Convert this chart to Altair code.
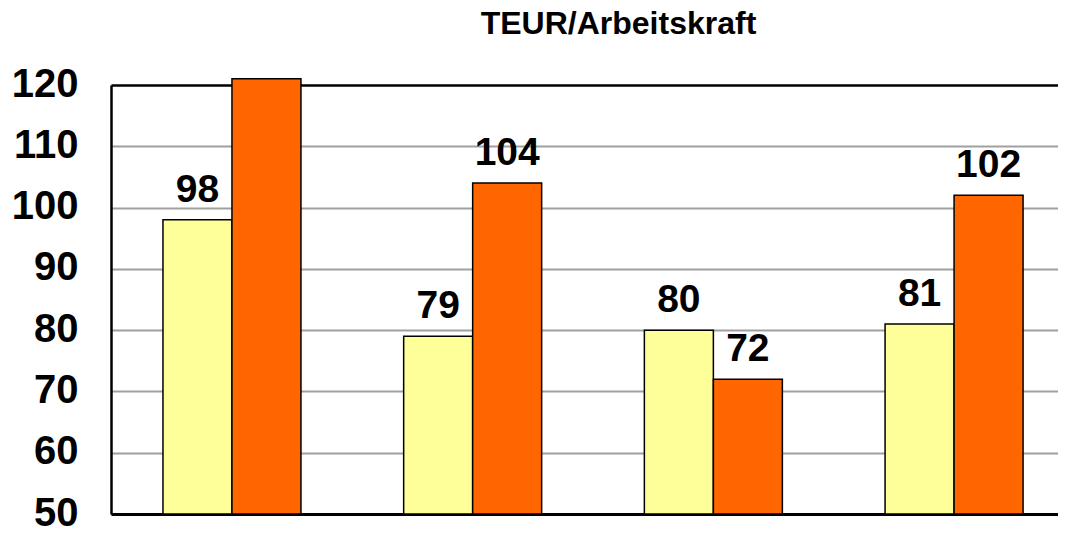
import altair as alt
import pandas as pd

# --- data ---
groups = ["1", "2", "3", "4"]
series = ["Reihe 1", "Reihe 2"]
yellow_values = [98, 79, 80, 81]
orange_values = [121, 104, 72, 102]  # first orange bar runs off the top of the axis
colors = ["#FFFF99", "#FF6600"]
y_ticks = [50, 60, 70, 80, 90, 100, 110, 120]
y_min, y_max = 50, 120

rows = []
for g, a, b in zip(groups, yellow_values, orange_values):
    rows.append({"group": g, "series": series[0], "value": a})
    rows.append({"group": g, "series": series[1], "value": b})
df = pd.DataFrame(rows)

FONT = "Liberation Sans"

x_enc = alt.X(
    "group:N",
    sort=groups,
    scale=alt.Scale(paddingInner=0.4267, paddingOuter=0.1805, align=0.598),
    axis=alt.Axis(
        title=None, labels=False, ticks=False,
        domain=True, domainColor="black", domainWidth=3, grid=False,
    ),
)
xoff_enc = alt.XOffset(
    "series:N", sort=series, scale=alt.Scale(paddingInner=0, paddingOuter=0)
)
y_enc = alt.Y(
    "value:Q",
    scale=alt.Scale(domain=[y_min, y_max], nice=False, zero=False),
    axis=alt.Axis(
        title=None,
        values=y_ticks,
        tickSize=0,
        labelFont=FONT,
        labelFontSize=40,
        labelFontWeight="bold",
        labelColor="black",
        labelPadding=33,
        labelBaseline="middle",
        labelOffset=-1,
        domain=True,
        domainColor="black",
        domainWidth=2.5,
        grid=True,
        gridColor=alt.condition("datum.value == 120", alt.value("black"), alt.value("#a0a0a0")),
        gridWidth=alt.condition("datum.value == 120", alt.value(2.5), alt.value(2)),
    ),
)

base = alt.Chart(df)

bars = base.mark_bar(stroke="black", strokeWidth=1.5, clip=False).encode(
    x=x_enc,
    xOffset=xoff_enc,
    y=y_enc,
    y2=alt.Y2(datum=y_min),
    color=alt.Color(
        "series:N", sort=series,
        scale=alt.Scale(domain=series, range=colors), legend=None,
    ),
)

labels = base.transform_filter("datum.value <= 120").mark_text(
    font=FONT, fontSize=39, fontWeight="bold", color="black",
    baseline="alphabetic", align="center", dy=-18,
).encode(
    x=x_enc,
    xOffset=xoff_enc,
    y=y_enc,
    text=alt.Text("value:Q"),
)

chart = (
    alt.layer(bars, labels)
    .properties(
        width=947,
        height=429,
        autosize=alt.AutoSizeParams(type="none"),
        padding={"left": 103, "top": 77, "right": 0, "bottom": 14},
        title=alt.TitleParams(
            text="TEUR/Arbeitskraft",
            font=FONT,
            fontSize=32,
            fontWeight="bold",
            color="black",
            anchor="middle",
            frame="group",
            baseline="alphabetic",
            offset=-2,
            dx=34,
        ),
    )
    .configure_view(stroke=None)
    .configure(background="white")
)

chart.save("out.html", embed_options={"renderer": "svg", "actions": False})
